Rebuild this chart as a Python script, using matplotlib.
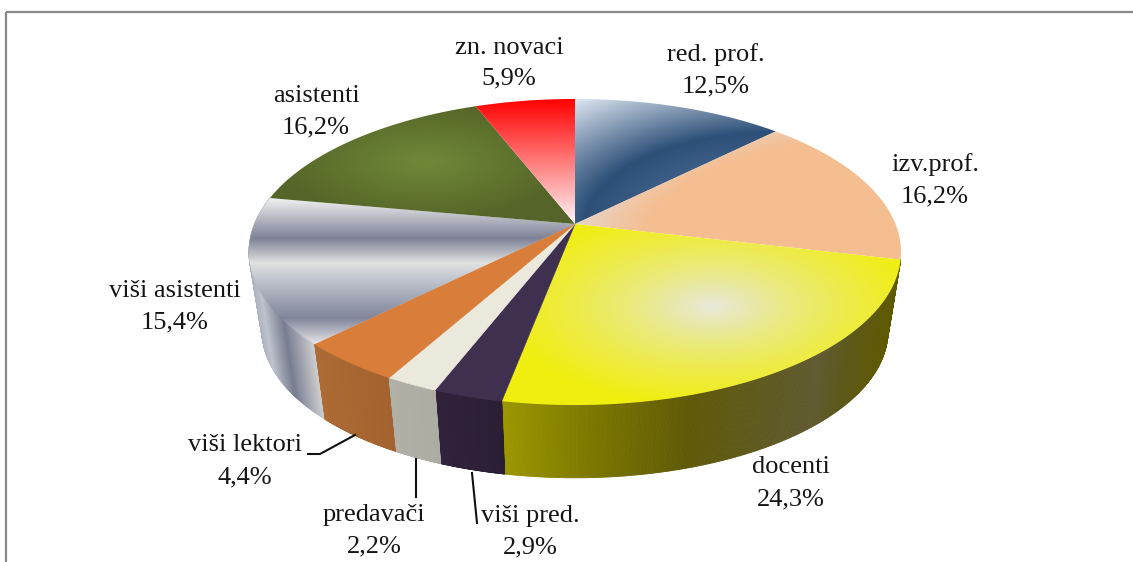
import numpy as np
import matplotlib
matplotlib.use("Agg")
import matplotlib.pyplot as plt
from matplotlib.collections import PolyCollection
from matplotlib.patches import Polygon

plt.rcParams['font.family'] = ['Liberation Serif', 'DejaVu Serif']

# data
categories = ["red. prof.", "izv.prof.", "docenti", "viši pred.", "predavači",
              "viši lektori", "viši asistenti", "asistenti", "zn. novaci"]
shares = [12.5, 16.2, 24.3, 2.9, 2.2, 4.4, 15.4, 16.2, 5.9]

# label centres in pixels (x, y of first line, y of second line)
label_x = [716, 935, 791, 530, 374, 245, 175, 316, 509]
label_y1 = [55, 165, 467, 516, 515, 445, 291, 96, 48]
label_y2 = [86, 196, 499, 547, 546, 477, 322, 127, 78]

W, H = 1133, 562
CX, CY = 575, 224
A, B, K = 147.9, 320.5, 0.183   # perspective of the top face
SCALE, CY_LOW = 0.96, 304       # bottom face


def rim(theta, scale=1.0, cy=CY):
    """Perspective point(s) on the pie rim, theta clockwise from 12 o'clock."""
    u, v = np.sin(theta), -np.cos(theta)
    d = 1 - K * v
    return CX + scale * B * u / d, cy + scale * A * v / d


def ramp(t, stops, colors):
    cols = np.array(colors, dtype=float) / 255
    return np.dstack([np.interp(t, stops, cols[:, i]) for i in range(3)])


gy, gx = np.mgrid[0:H, 0:W] + 0.5


def ell(x0, y0, sx, sy):
    return np.hypot((gx - x0) / sx, (gy - y0) / sy)


top_fills = [
    ramp(ell(775, 225, 215, 105), [0.4, 0.885, 1.52],
         [(78, 108, 148), (45, 80, 120), (224, 232, 243)]),
    ramp(ell(870, 250, 230, 110), [1.0, 1.3], [(245, 190, 145), (232, 212, 198)]),
    ramp(ell(712, 306, 200, 95), [0, 0.12, 0.4, 0.7, 1.05],
         [(232, 232, 218), (232, 232, 190), (234, 234, 125), (238, 236, 70), (240, 238, 15)]),
    (64, 48, 80),
    (235, 232, 220),
    (216, 126, 58),
    ramp(gy, [198, 238, 263, 281, 318, 343],
         [(242, 242, 242), (125, 130, 150), (224, 225, 224), (190, 195, 205),
          (128, 133, 153), (226, 226, 230)]),
    ramp(ell(425, 162, 150, 60), [0, 1], [(112, 137, 56), (85, 100, 40)]),
    ramp(gy, [99, 224], [(255, 0, 0), (255, 246, 246)]),
]

# side shading as colour against rim x
side_fills = {
    2: ([503, 600, 690, 820, 850, 900],
        [(155, 150, 0), (122, 116, 0), (95, 90, 8), (95, 90, 48), (92, 88, 25), (95, 90, 0)]),
    3: ([437, 503], [(48, 34, 58), (42, 30, 52)]),
    4: ([389, 437], [(176, 176, 166), (172, 172, 162)]),
    5: ([315, 389], [(172, 106, 52), (164, 98, 48)]),
    6: ([249, 262, 284, 316], [(170, 175, 190), (190, 195, 205), (120, 125, 145), (212, 212, 212)]),
}

fig = plt.figure(figsize=(W / 100, H / 100), dpi=100)
ax = fig.add_axes([0, 0, 1, 1])
ax.set_axis_off()

edges = np.radians(np.cumsum([0] + shares) * 3.6)

# outer frame of the chart area
ax.plot([6, 6], [H, 12], color="#888888", lw=1.6, solid_capstyle="butt")
ax.plot([6, W], [12, 12], color="#888888", lw=1.6, solid_capstyle="butt")

# sides, back to front
for i in [6, 2, 5, 3, 4]:
    th = np.linspace(edges[i], edges[i + 1], 240)
    if i == 6 or i == 2:
        th = th[::-1]
    x1, y1 = rim(th)
    x2, y2 = rim(th, SCALE, CY_LOW)
    quads = [[(x1[j], y1[j]), (x1[j + 1], y1[j + 1]), (x2[j + 1], y2[j + 1]), (x2[j], y2[j])]
             for j in range(len(th) - 1)]
    stops, cols = side_fills[i]
    colors = ramp(x1[:-1], stops, cols)[0]
    ax.add_collection(PolyCollection(quads, facecolors=colors, edgecolors=colors, linewidths=0.6, zorder=2))

# top face
for i, fill in enumerate(top_fills):
    th = np.linspace(edges[i], edges[i + 1], 200)
    x, y = rim(th)
    outline = np.column_stack([np.r_[CX, x], np.r_[CY, y]])
    if isinstance(fill, tuple):
        ax.add_patch(Polygon(outline, closed=True, facecolor=np.array(fill) / 255,
                             edgecolor=np.array(fill) / 255, lw=0.4, zorder=3))
        continue
    im = ax.imshow(fill, extent=(0, W, H, 0), aspect="auto", interpolation="bilinear", zorder=3)
    clip = Polygon(outline, closed=True, transform=ax.transData)
    im.set_clip_path(clip)

# leader lines
ax.plot([308, 320, 355], [454, 454, 435], color="#111111", lw=1.5, zorder=4)
ax.plot([416, 416], [459, 497], color="#111111", lw=1.5, zorder=4)
ax.plot([472, 477], [473, 523], color="#111111", lw=1.5, zorder=4)

# labels
for name, share, lx, ly1, ly2 in zip(categories, shares, label_x, label_y1, label_y2):
    ax.text(lx, ly1, name, ha="center", va="center", fontsize=19, color="#151515", zorder=5)
    ax.text(lx, ly2, f"{share:.1f}%".replace(".", ","), ha="center", va="center",
            fontsize=19, color="#151515", zorder=5)

ax.set_xlim(0, W)
ax.set_ylim(H, 0)
fig.savefig("out.png", dpi=100, facecolor="white")
